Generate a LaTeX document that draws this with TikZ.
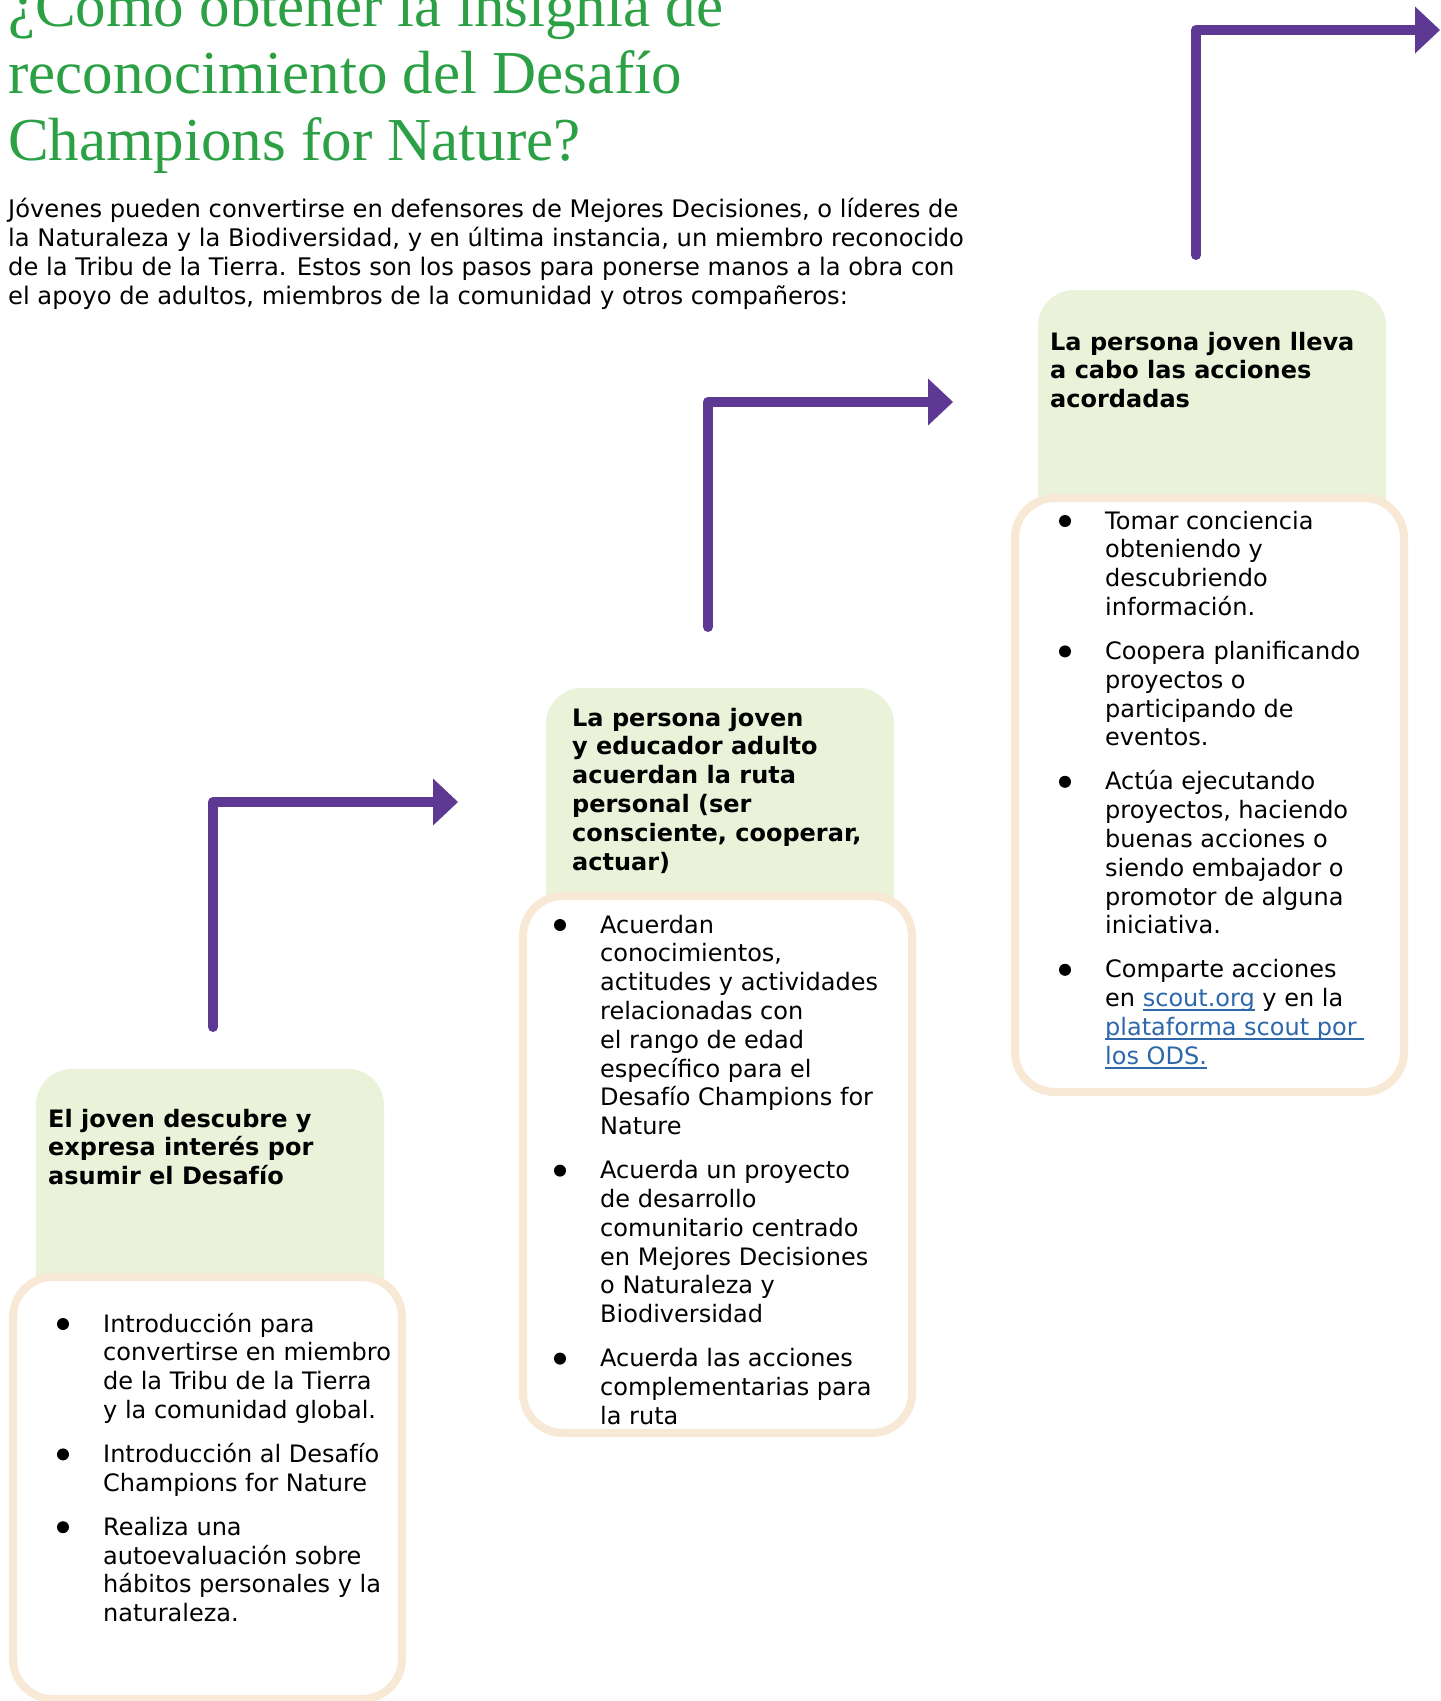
\documentclass[tikz,border=0pt]{standalone}
\usepackage{fontspec}
\setmainfont{DejaVu Sans}
\newfontfamily\titleFamily{Liberation Serif}
\usetikzlibrary{arrows.meta}
\definecolor{titleGreen}{RGB}{44,160,68}
\definecolor{headerGreen}{RGB}{235,242,218}
\definecolor{frameBeige}{RGB}{248,232,214}
\definecolor{arrowPurple}{RGB}{93,57,148}
\definecolor{linkBlue}{RGB}{46,104,170}
\tikzstyle{sheet} = [x = 1pt, y = -1pt]
\newcommand{\bodySize}{\fontsize{24}{28.8}\selectfont}
\tikzstyle{titleText} = [anchor = base west, inner sep = 0pt, text = titleGreen, font = \titleFamily\fontsize{61}{67}\selectfont]
\tikzstyle{introText} = [anchor = base west, inner sep = 0pt, font = \fontsize{24.2}{29}\selectfont]
\tikzstyle{headText} = [anchor = base west, inner sep = 0pt, font = \bfseries\bodySize]
\tikzstyle{itemText} = [anchor = base west, inner sep = 0pt, font = \bodySize]
\tikzstyle{bulletDot} = [circle, fill = black, minimum size = 12pt, inner sep = 0pt]
\tikzstyle{headerFill} = [fill = headerGreen, rounded corners = 36pt]
\tikzstyle{panelFrame} = [draw = frameBeige, fill = white, line width = 8pt, rounded corners = 40pt]
\tikzstyle{arrowLine} = [draw = arrowPurple, line width = 10pt, line cap = round, line join = round, -{Triangle[length = 25pt, width = 47pt, line width = 0pt]}]
\newcommand{\stepLines}[1]{\parbox[t]{1000pt}{\raggedright #1}}
\newcommand{\webLink}[1]{\leavevmode{\color{linkBlue}\setbox0=\hbox{#1}\rlap{\rule[-4.5pt]{\wd0}{1.8pt}}\box0}}
\newcommand{\stepArrow}[5]{
  \coordinate (#1Start) at (#2, #3);
  \coordinate (#1Tip) at (#5, #4);
  \draw [arrowLine] (#1Start) |- (#1Tip);
}
\newcommand{\stepPanel}[3]{
  \fill [headerFill] (#1 + 27, #2) rectangle (#1 + 375, #2 + 250);
  \filldraw [panelFrame] (#1 + 4, #2 + 208) rectangle (#1 + 393, #3);
}
\newcommand{\stepItem}[4]{
  \node [itemText] (#1) at (#2, #3) {\stepLines{#4}};
  \node [bulletDot] (#1Dot) at ([xshift = -40pt, yshift = 8pt] #1.base west) {};
}
\begin{document}
\begin{tikzpicture}[sheet]
  \useasboundingbox (0, 0) rectangle (1441, 1701);
  \node [titleText] (title) at (8, 26) {\stepLines{¿Cómo obtener la insignia de\\reconocimiento del Desafío\\Champions for Nature?}};
  \node [introText] (intro) at (8, 217) {\stepLines{Jóvenes pueden convertirse en defensores de Mejores Decisiones, o líderes de\\la Naturaleza y la Biodiversidad, y en última instancia, un miembro reconocido\\de la Tribu de la Tierra. Estos son los pasos para ponerse manos a la obra con\\el apoyo de adultos, miembros de la comunidad y otros compañeros:}};
  \stepArrow{arrowOne}{213}{1027}{802}{458}
  \stepArrow{arrowTwo}{708}{627}{402}{953}
  \stepArrow{arrowThree}{1196}{255}{30}{1440}
  \stepPanel{9}{1069}{1699}
  \stepPanel{519}{688}{1433}
  \stepPanel{1011}{290}{1092}
  \node [headText] (headOne) at (48, 1127) {\stepLines{El joven descubre y\\expresa interés por\\asumir el Desafío}};
  \node [headText] (headTwo) at (572, 726) {\stepLines{La persona joven\\y educador adulto\\acuerdan la ruta\\personal (ser\\consciente, cooperar,\\actuar)}};
  \node [headText] (headThree) at (1050, 350) {\stepLines{La persona joven lleva\\a cabo las acciones\\acordadas}};
  \stepItem{itemOneA}{103}{1332}{Introducción para\\convertirse en miembro\\de la Tribu de la Tierra\\y la comunidad global.}
  \stepItem{itemOneB}{103}{1462.4}{Introducción al Desafío\\Champions for Nature}
  \stepItem{itemOneC}{103}{1535.2}{Realiza una\\autoevaluación sobre\\hábitos personales y la\\naturaleza.}
  \stepItem{itemTwoA}{600}{933}{Acuerdan\\conocimientos,\\actitudes y actividades\\relacionadas con\\el rango de edad\\específico para el\\Desafío Champions for\\Nature}
  \stepItem{itemTwoB}{600}{1178.6}{Acuerda un proyecto\\de desarrollo\\comunitario centrado\\en Mejores Decisiones\\o Naturaleza y\\Biodiversidad}
  \stepItem{itemTwoC}{600}{1366.6}{Acuerda las acciones\\complementarias para\\la ruta}
  \stepItem{itemThreeA}{1105}{529}{Tomar conciencia\\obteniendo y\\descubriendo\\información.}
  \stepItem{itemThreeB}{1105}{659.4}{Coopera planificando\\proyectos o\\participando de\\eventos.}
  \stepItem{itemThreeC}{1105}{789.8}{Actúa ejecutando\\proyectos, haciendo\\buenas acciones o\\siendo embajador o\\promotor de alguna\\iniciativa.}
  \stepItem{itemThreeD}{1105}{977.8}{Comparte acciones\\en \webLink{scout.org} y en la\\\webLink{plataforma scout por\ }\\\webLink{los ODS.}}
\end{tikzpicture}
\end{document}
